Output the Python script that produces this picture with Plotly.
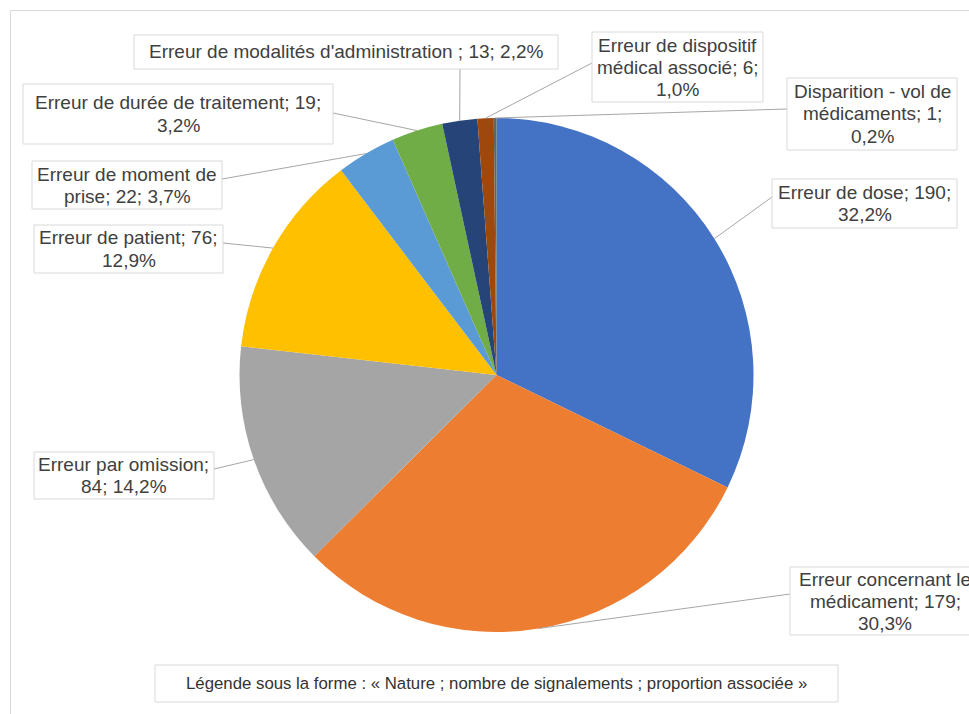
import math
import plotly.graph_objects as go

# ---------------- data ----------------
categories = [
    "Erreur de dose",
    "Erreur concernant le médicament",
    "Erreur par omission",
    "Erreur de patient",
    "Erreur de moment de prise",
    "Erreur de durée de traitement",
    "Erreur de modalités d'administration ",
    "Erreur de dispositif médical associé",
    "Disparition - vol de médicaments",
]
counts = [190, 179, 84, 76, 22, 19, 13, 6, 1]
legend_note = "Légende sous la forme : « Nature ; nombre de signalements ; proportion associée »"

# ---------------- styles / layout ----------------
colors = ["#4472C4", "#ED7D31", "#A5A5A5", "#FFC000", "#5B9BD5",
          "#70AD47", "#264478", "#9E480E", "#636363"]
W, H = 969, 714
CX, CY, R = 496.5, 375.0, 257.0          # pie centre / radius in pixels
# number of words on each wrapped line of every label
words_per_line = [
    [4, 1], [3, 2, 1], [3, 2], [4, 1], [4, 3],
    [6, 1], [8], [3, 3, 1], [4, 2, 1],
]
# label boxes (x0, x1, y0, y1) in pixels
boxes = [
    (772, 957, 179, 228),
    (790, 980, 567, 635),
    (34, 214, 452, 499),
    (34, 223, 225, 273),
    (32, 222, 161, 209),
    (23, 333, 84, 144),
    (134, 558, 35, 69),
    (592, 763, 32, 102),
    (787, 957, 78, 150),
]
# where each leader line touches its box (pixels)
anchors = [
    (772, 197), (790, 594), (214, 469), (223, 243), (222, 179),
    (333, 113), (460, 69), (592, 63), (787, 109),
]
LINE_PITCH = 22
FONT = "Liberation Sans, Arial, sans-serif"
TEXT_COLOR = "#404040"
BORDER = "#d9d9d9"
LEADER = "#a6a6a6"


def px(x):
    return x / W


def py(y):
    return 1 - y / H


def split_words(text, counts_per_line):
    words = text.split(" ")
    out, i = [], 0
    for n in counts_per_line:
        out.append(" ".join(words[i:i + n]))
        i += n
    return out


total = sum(counts)
pcts = [f"{100 * c / total:.1f}".replace(".", ",") + "%" for c in counts]
labels = [f"{cat}; {c}; {p}" for cat, c, p in zip(categories, counts, pcts)]

fig = go.Figure()
fig.add_trace(go.Pie(
    labels=categories,
    values=counts,
    sort=False,
    direction="clockwise",
    rotation=0,
    textinfo="none",
    hoverinfo="label+value+percent",
    marker=dict(colors=colors, line=dict(width=0)),
    domain=dict(x=[px(CX - R), px(CX + R)], y=[py(CY + R), py(CY - R)]),
    showlegend=False,
))

shapes = []
annotations = []

# outer chart frame
shapes.append(dict(type="line", xref="paper", yref="paper",
                   x0=px(10.5), y0=py(10.5), x1=1.05, y1=py(10.5),
                   line=dict(color=BORDER, width=1)))
shapes.append(dict(type="line", xref="paper", yref="paper",
                   x0=px(10.5), y0=py(10.5), x1=px(10.5), y1=-0.05,
                   line=dict(color=BORDER, width=1)))

cum = 0
for i, c in enumerate(counts):
    mid = (cum + c / 2) / total
    cum += c
    theta = 2 * math.pi * mid
    ex = CX + R * math.sin(theta)
    ey = CY - R * math.cos(theta)
    ax, ay = anchors[i]
    shapes.append(dict(type="line", xref="paper", yref="paper",
                       x0=px(ex), y0=py(ey), x1=px(ax), y1=py(ay),
                       line=dict(color=LEADER, width=1)))
    x0, x1, y0, y1 = boxes[i]
    shapes.append(dict(type="rect", xref="paper", yref="paper",
                       x0=px(x0), x1=px(x1), y0=py(y0), y1=py(y1),
                       fillcolor="white", line=dict(color=BORDER, width=1)))
    lines = split_words(labels[i], words_per_line[i])
    n = len(lines)
    xc = (x0 + x1) / 2
    yc = (y0 + y1) / 2
    for k, t in enumerate(lines):
        yl = yc + (k - (n - 1) / 2) * LINE_PITCH
        annotations.append(dict(
            xref="paper", yref="paper", x=px(xc), y=py(yl),
            xanchor="center", yanchor="middle", text=t, showarrow=False,
            font=dict(family=FONT, size=19, color=TEXT_COLOR)))

# footnote box
shapes.append(dict(type="rect", xref="paper", yref="paper",
                   x0=px(155), x1=px(838), y0=py(665), y1=py(702),
                   fillcolor="white", line=dict(color=BORDER, width=1)))
annotations.append(dict(
    xref="paper", yref="paper", x=px(496.5), y=py(683.5),
    xanchor="center", yanchor="middle", text=legend_note, showarrow=False,
    font=dict(family=FONT, size=16.8, color="#333333")))

fig.update_layout(
    width=W, height=H,
    margin=dict(l=0, r=0, t=0, b=0),
    paper_bgcolor="white",
    plot_bgcolor="white",
    shapes=shapes,
    annotations=annotations,
)

fig.write_html("out.html", config={"displayModeBar": False})
